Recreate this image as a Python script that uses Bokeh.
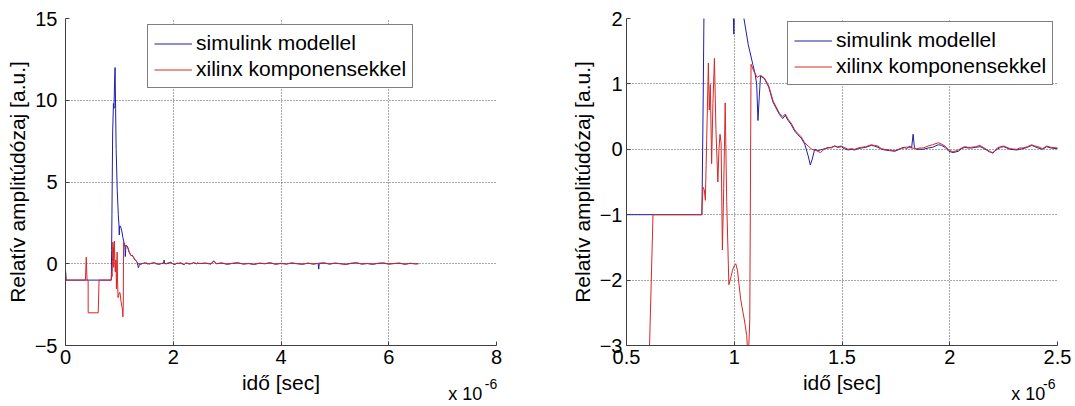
from bokeh.plotting import figure
from bokeh.models import (Range1d, FixedTicker, Legend, LegendItem, LinearAxis,
                          NumeralTickFormatter)
from bokeh.layouts import row
from bokeh.embed import file_html
from bokeh.resources import INLINE

# ---------------- data (time in microseconds, i.e. x 10^-6 s) ----------------
series_names = ["simulink modellel", "xilinx komponensekkel"]

t_sim = [0.0, 0.01, 0.85, 0.856, 0.862, 0.875, 0.89, 0.90, 0.91, 0.92, 0.93, 0.94,
         0.96, 0.98, 0.994, 0.998, 1.002, 1.02, 1.045, 1.065, 1.086, 1.097, 1.104,
         1.11, 1.116, 1.122, 1.14, 1.16, 1.18, 1.21, 1.225, 1.237, 1.25, 1.264,
         1.28, 1.296, 1.311, 1.327, 1.343, 1.353, 1.362, 1.373, 1.39, 1.41, 1.435,
         1.45, 1.466, 1.48, 1.497, 1.51, 1.528, 1.545, 1.559, 1.575, 1.59, 1.61,
         1.636, 1.65, 1.667, 1.683, 1.698, 1.72, 1.745, 1.76, 1.776, 1.79, 1.80,
         1.815, 1.823, 1.83, 1.836, 1.846, 1.862, 1.877, 1.90, 1.92, 1.947, 1.962,
         1.978, 1.996, 2.015, 2.04, 2.055, 2.07, 2.085, 2.10, 2.12, 2.14, 2.155,
         2.17, 2.185, 2.20, 2.22, 2.235, 2.25, 2.265, 2.28, 2.31, 2.325, 2.34,
         2.36, 2.38, 2.395, 2.41, 2.43, 2.45, 2.47, 2.50, 2.6, 2.7, 2.75, 2.8,
         2.9, 3.0, 3.1, 3.2, 3.3, 3.4, 3.5, 3.6, 3.7, 3.8, 3.9, 4.0, 4.1, 4.2,
         4.3, 4.4, 4.5, 4.6, 4.69, 4.70, 4.71, 4.8, 4.9, 5.0, 5.1, 5.2, 5.3, 5.4,
         5.5, 5.6, 5.7, 5.8, 5.9, 6.0, 6.1, 6.2, 6.3, 6.4, 6.5, 6.55]
v_sim = [-0.4, -1.0, -1.0, 0.8, 3.0, 8.0, 9.8, 9.5, 11.0, 12.0, 9.5, 7.0,
         4.5, 3.0, 2.3, 1.76, 2.3, 2.3, 2.0, 1.6, 1.3, 1.15, 1.0,
         0.44, 0.8, 1.12, 1.08, 0.95, 0.72, 0.53, 0.47, 0.52, 0.44, 0.38,
         0.28, 0.22, 0.17, 0.08, -0.1, -0.24, -0.15, 0.0, -0.02, 0.0, 0.02,
         0.03, 0.05, 0.03, 0.04, 0.01, -0.01, 0.0, -0.01, 0.01, 0.02, 0.03,
         0.06, 0.05, 0.03, 0.0, -0.01, -0.02, -0.03, -0.01, 0.02, 0.03, 0.01,
         0.05, 0.02, 0.23, 0.03, 0.0, 0.0, 0.0, 0.02, 0.03, 0.07, 0.06,
         0.03, -0.03, -0.05, -0.03, 0.01, 0.03, 0.02, 0.02, 0.03, 0.04, 0.02,
         -0.01, -0.04, -0.05, 0.0, 0.03, 0.04, 0.02, 0.0, -0.01, 0.0, 0.01,
         0.03, 0.06, 0.04, 0.02, 0.0, 0.04, 0.02, 0.01, 0.03, -0.02, 0.18, 0.0,
         0.04, -0.03, 0.02, 0.05, -0.02, 0.01, -0.04, 0.03, 0.0, 0.05, -0.03, 0.02, -0.02, 0.04,
         0.0, -0.03, 0.03, -0.02, 0.02, -0.33, 0.02, 0.04, -0.02, 0.03, 0.0, -0.04, 0.02, 0.05,
         -0.02, 0.01, -0.03, 0.02, 0.04, -0.02, 0.01, 0.03, -0.03, 0.02, -0.01, 0.0]

t_xil = [0.0, 0.01, 0.37, 0.385, 0.40, 0.42, 0.421, 0.607, 0.623, 0.849, 0.855,
         0.861, 0.866, 0.872, 0.880, 0.884, 0.889, 0.895, 0.901, 0.908, 0.915,
         0.924, 0.929, 0.934, 0.939, 0.945, 0.951, 0.958, 0.965, 0.975, 0.985,
         0.992, 1.0, 1.007, 1.015, 1.03, 1.047, 1.058, 1.065, 1.072, 1.078, 1.09,
         1.106, 1.122, 1.14, 1.16, 1.18, 1.21, 1.225, 1.237, 1.25, 1.264, 1.28,
         1.296, 1.311, 1.327, 1.343, 1.36, 1.38, 1.40, 1.42, 1.435, 1.45, 1.466,
         1.48, 1.497, 1.51, 1.528, 1.545, 1.559, 1.575, 1.59, 1.61, 1.636, 1.65,
         1.667, 1.683, 1.698, 1.72, 1.745, 1.76, 1.776, 1.80, 1.823, 1.846, 1.862,
         1.877, 1.90, 1.92, 1.947, 1.962, 1.978, 1.996, 2.015, 2.04, 2.055, 2.07,
         2.085, 2.10, 2.12, 2.14, 2.155, 2.17, 2.185, 2.20, 2.22, 2.235, 2.25,
         2.265, 2.28, 2.31, 2.325, 2.34, 2.36, 2.38, 2.395, 2.41, 2.43, 2.45,
         2.47, 2.50, 2.6, 2.7, 2.75, 2.8, 2.9, 3.0, 3.1, 3.2, 3.3, 3.4, 3.5,
         3.6, 3.7, 3.8, 3.9, 4.0, 4.1, 4.2, 4.3, 4.4, 4.5, 4.6, 4.7, 4.8, 4.9,
         5.0, 5.1, 5.2, 5.3, 5.4, 5.5, 5.6, 5.7, 5.8, 5.9, 6.0, 6.1, 6.2, 6.3,
         6.4, 6.5, 6.55]
v_xil = [-0.4, -1.0, -1.0, 0.4, -1.0, -1.0, -3.0, -3.0, -1.0, -1.0, -0.58,
         -0.62, -0.78, 0.13, 1.32, 0.6, 0.99, -0.22, 0.7, 1.39, 0.3,
         -0.5, 0.0, 0.23, 0.1, -1.54, -0.6, 0.71, -0.8, -2.07, -1.95,
         -1.85, -1.78, -1.75, -1.85, -2.3, -2.61, -2.85, -3.25, -2.6, 1.3, 1.2,
         1.1, 1.13, 1.09, 0.97, 0.74, 0.55, 0.5, 0.54, 0.46, 0.4, 0.3,
         0.24, 0.19, 0.1, 0.05, 0.0, -0.02, -0.05, 0.01, 0.03, 0.02, 0.05,
         0.04, 0.05, 0.03, 0.0, 0.01, 0.0, 0.02, 0.03, 0.04, 0.07, 0.06,
         0.05, 0.01, 0.0, -0.01, -0.02, 0.0, 0.01, 0.035, 0.02, 0.01, 0.02,
         0.02, 0.05, 0.07, 0.1, 0.08, 0.05, -0.01, -0.04, -0.01, 0.02, 0.04,
         0.03, 0.03, 0.04, 0.06, 0.03, 0.0, -0.03, -0.06, 0.02, 0.04, 0.05,
         0.03, 0.01, 0.0, 0.02, 0.02, 0.04, 0.07, 0.05, 0.04, 0.01, 0.05,
         0.03, 0.02, 0.04, 0.0, 0.15, 0.01, 0.05, -0.02, 0.03, 0.06, -0.01, 0.02, -0.03,
         0.04, 0.01, 0.06, -0.02, 0.03, -0.01, 0.05, 0.01, -0.02, 0.04, -0.01, 0.03, 0.05, -0.01,
         0.04, 0.01, -0.03, 0.03, 0.06, -0.01, 0.02, -0.02, 0.03, 0.05, -0.01, 0.02, 0.04, -0.02,
         0.03, 0.0, 0.01]

left_x_range = (0, 8)
left_y_range = (-5, 15)
left_xticks = [0, 2, 4, 6, 8]
left_yticks = [-5, 0, 5, 10, 15]
right_x_range = (0.5, 2.5)
right_y_range = (-3, 2)
right_xticks = [0.5, 1, 1.5, 2, 2.5]
right_yticks = [-3, -2, -1, 0, 1, 2]

x_label = "idő [sec]"
y_label = "Relatív amplitúdózaj [a.u.]"
exp_base = "x 10"     # axis multiplier x 10^-6
exp_power = "-6"

# ---------------- styling / placement ----------------
FONT = "Liberation Sans"
BLUE = "#1f1fa8"
RED = "#d62828"
FRAME_H = 327
FRAME_W = 431
FIG_H = 406
# where the multiplier texts sit along each time axis (annotation placement)
LEFT_EXP_POS = (7.419, 7.898)
RIGHT_EXP_POS = (2.364, 2.462)


def text_axis(pos, text, size, standoff):
    ax = LinearAxis(ticker=FixedTicker(ticks=[pos]),
                    major_label_overrides={pos: text})
    ax.axis_line_color = None
    ax.major_tick_line_color = None
    ax.minor_tick_line_color = None
    ax.major_tick_in = 0
    ax.major_tick_out = 0
    ax.major_label_standoff = standoff
    ax.major_label_text_font = FONT
    ax.major_label_text_font_size = size
    ax.major_label_text_color = "black"
    return ax


def make_plot(xr, yr, xt, yt, mbl, mbr, lab_stand, ax_stand, leg_x, leg_top, exp_pos):
    p = figure(width=mbl + FRAME_W + mbr, height=FIG_H,
               x_range=Range1d(*xr), y_range=Range1d(*yr),
               output_backend="svg", toolbar_location=None,
               min_border_left=mbl, min_border_right=mbr,
               min_border_top=18, min_border_bottom=FIG_H - 18 - FRAME_H)
    p.outline_line_color = None
    p.background_fill_color = "white"
    p.border_fill_color = "white"

    r1 = p.line(t_sim, v_sim, line_color=BLUE, line_width=1)
    r2 = p.line(t_xil, v_xil, line_color=RED, line_width=1)

    p.xaxis.ticker = FixedTicker(ticks=xt)
    p.yaxis.ticker = FixedTicker(ticks=yt)
    p.xaxis.formatter = NumeralTickFormatter(format="0.[0]")
    for ax in (p.xaxis, p.yaxis):
        ax.axis_line_color = "#404040"
        ax.major_tick_line_color = "#404040"
        ax.major_tick_in = 4
        ax.major_tick_out = 0
        ax.minor_tick_line_color = None
        ax.major_label_text_font = FONT
        ax.major_label_text_font_size = "20px"
        ax.major_label_text_color = "black"
        ax.axis_label_text_font = FONT
        ax.axis_label_text_font_size = "21px"
        ax.axis_label_text_font_style = "normal"
        ax.axis_label_text_color = "black"
    p.xaxis.major_label_standoff = 4
    p.xaxis.axis_label_standoff = 4
    p.yaxis.major_label_standoff = lab_stand
    p.yaxis.axis_label_standoff = ax_stand
    p.xaxis.axis_label = x_label
    p.yaxis.axis_label = y_label

    # multiplier "x 10" with raised "-6" under the right end of the time axis
    p.add_layout(text_axis(exp_pos[0], exp_base, "18px", -13), "below")
    p.add_layout(text_axis(exp_pos[1], exp_power, "14px", -28), "below")

    for g in (p.xgrid, p.ygrid):
        g.grid_line_color = "#505050"
        g.grid_line_dash = "1 2"
        g.grid_line_width = 1
    p.xgrid.ticker = FixedTicker(ticks=xt)

    legend = Legend(items=[LegendItem(label=series_names[0], renderers=[r1]),
                           LegendItem(label=series_names[1], renderers=[r2])],
                    location=(leg_x, FRAME_H - leg_top - 59))
    legend.border_line_color = "black"
    legend.border_line_width = 1
    legend.background_fill_color = "white"
    legend.background_fill_alpha = 1
    legend.padding = 6
    legend.spacing = 2
    legend.margin = 0
    legend.glyph_width = 38
    legend.glyph_height = 23
    legend.label_height = 23
    legend.label_width = 210
    legend.label_standoff = 4
    legend.label_text_font = FONT
    legend.label_text_font_size = "21px"
    legend.label_text_color = "black"
    p.add_layout(legend)
    return p


p1 = make_plot(left_x_range, left_y_range, left_xticks, left_yticks,
               65, 52, 8, 3, 82, 11, LEFT_EXP_POS)
p2 = make_plot(right_x_range, right_y_range, right_xticks, right_yticks,
               78, 18, 4, 3, 161, 8, RIGHT_EXP_POS)

layout = row(p1, p2)
open("out.html", "w").write(file_html(layout, INLINE))
